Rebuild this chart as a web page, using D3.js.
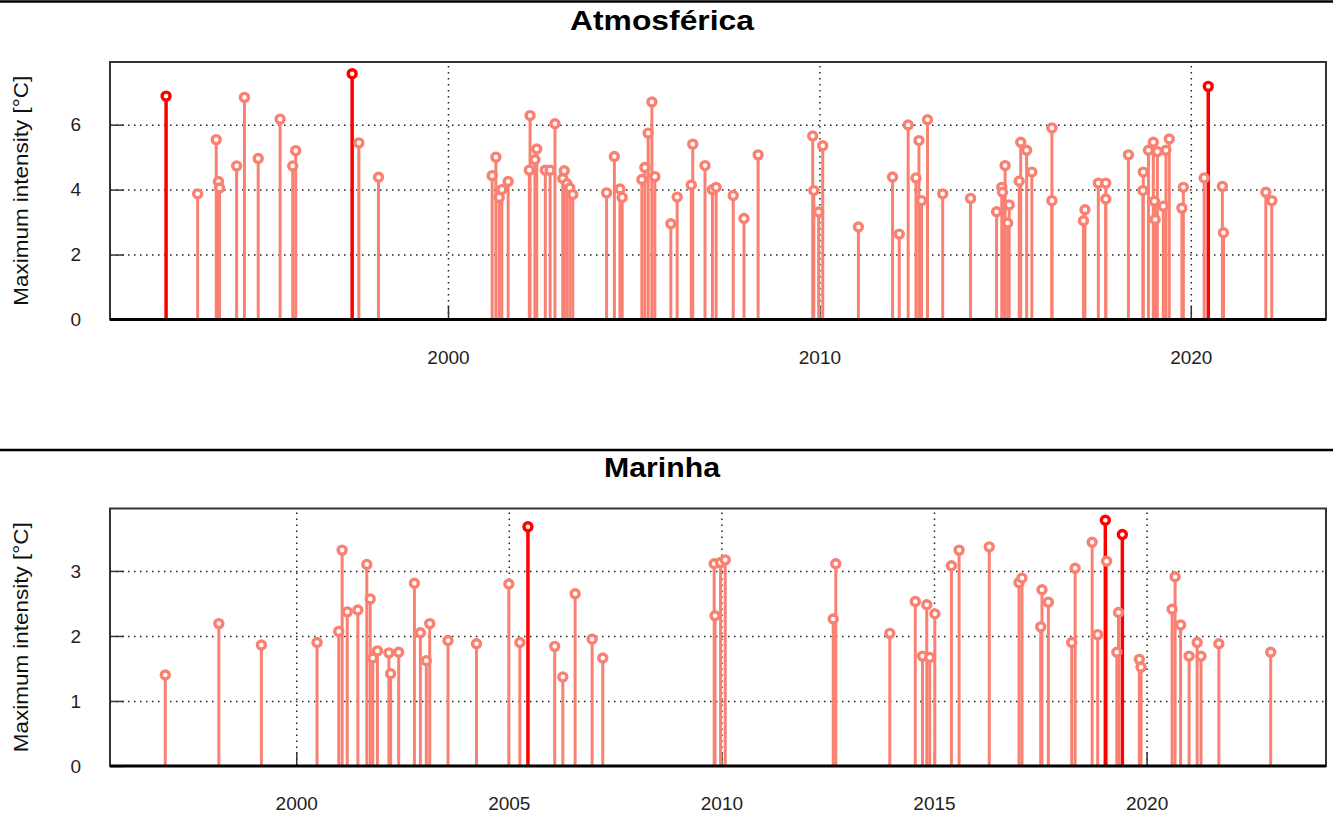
<!DOCTYPE html>
<html>
<head>
  <meta charset="utf-8">
  <title>Atmosférica / Marinha</title>
  <script src="https://cdn.jsdelivr.net/npm/d3@7"></script>
  <style>
    body { margin: 0; background: #fff; }
    svg text { font-family: "Liberation Sans", Arial, sans-serif; }
    .tick text { fill: #222; font-size: 19px; }
    .titulo { font-size: 27px; font-weight: bold; fill: #000; }
    .rotulo { font-size: 20px; fill: #111; }
  </style>
</head>
<body>
<div id="grafico"></div>
<script>
"use strict"

// Atmosférica - eventos normais (ano decimal, intensidade max)
var atmAnos = [1993.26, 1993.76, 1993.82, 1993.85, 1994.31, 1994.52, 1994.89, 1995.48, 1995.82, 1995.90,
  1997.60, 1998.13, 2001.19, 2001.29, 2001.38, 2001.45, 2001.62, 2002.19, 2002.21, 2002.34,
  2002.39, 2002.62, 2002.75, 2002.88, 2003.09, 2003.13, 2003.20, 2003.28, 2003.36, 2004.27,
  2004.48, 2004.63, 2004.69, 2005.22, 2005.30, 2005.39, 2005.49, 2005.57, 2006.00, 2006.17,
  2006.55, 2006.59, 2006.92, 2007.12, 2007.22, 2007.68, 2007.97, 2008.35, 2009.82, 2009.85,
  2009.98, 2010.09, 2011.05, 2011.97, 2012.15, 2012.39, 2012.60, 2012.68, 2012.75, 2012.91,
  2013.32, 2014.07, 2014.77, 2014.91, 2014.93, 2015.00, 2015.07, 2015.11, 2015.38, 2015.42,
  2015.58, 2015.72, 2016.26, 2016.26, 2017.11, 2017.15, 2017.51, 2017.71, 2017.71, 2018.32,
  2018.71, 2018.72, 2018.86, 2018.99, 2019.02, 2019.04, 2019.10, 2019.26, 2019.33, 2019.42,
  2019.76, 2019.80, 2020.36, 2020.85, 2020.88, 2022.02, 2022.18];
var atmValores = [3.87, 5.54, 4.25, 4.05, 4.73, 6.84, 4.96, 6.17, 4.73, 5.20,
  5.44, 4.38, 4.43, 5.00, 3.76, 4.00, 4.25, 4.60, 6.28, 4.92,
  5.25, 4.60, 4.60, 6.03, 4.34, 4.58, 4.18, 4.05, 3.85, 3.90,
  5.02, 4.02, 3.76, 4.31, 4.68, 5.74, 6.70, 4.40, 2.95, 3.77,
  4.14, 5.40, 4.74, 4.00, 4.07, 3.82, 3.11, 5.07, 5.65, 3.97,
  3.31, 5.35, 2.85, 4.39, 2.63, 5.99, 4.36, 5.51, 3.66, 6.15,
  3.87, 3.73, 3.32, 4.07, 3.92, 4.74, 2.97, 3.53, 4.26, 5.46,
  5.21, 4.54, 5.90, 3.66, 3.04, 3.38, 4.20, 4.20, 3.71, 5.07,
  3.97, 4.54, 5.21, 5.46, 3.64, 3.08, 5.17, 3.49, 5.21, 5.56,
  3.43, 4.07, 4.36, 4.10, 2.67, 3.92, 3.66];
// Atmosférica - eventos em destaque (vermelho)
var atmAnosTop = [1992.41, 1997.42, 2020.47];
var atmValoresTop = [6.88, 7.57, 7.18];

// Marinha - eventos normais
var marAnos = [1996.92, 1998.18, 1999.18, 2000.49, 2001.00, 2001.08, 2001.20, 2001.45, 2001.66, 2001.74,
  2001.80, 2001.91, 2002.18, 2002.22, 2002.41, 2002.78, 2002.92, 2003.06, 2003.14, 2003.57,
  2004.24, 2005.00, 2005.26, 2006.08, 2006.27, 2006.56, 2006.96, 2007.21, 2009.83, 2009.85,
  2009.98, 2010.09, 2012.63, 2012.69, 2013.96, 2014.56, 2014.73, 2014.83, 2014.90, 2015.02,
  2015.41, 2015.59, 2016.30, 2017.00, 2017.07, 2017.51, 2017.54, 2017.69, 2018.24, 2018.32,
  2018.72, 2018.85, 2019.06, 2019.30, 2019.34, 2019.83, 2019.87, 2020.60, 2020.67, 2020.80,
  2021.00, 2021.19, 2021.28, 2021.70, 2022.92];
var marValores = [1.40, 2.19, 1.86, 1.90, 2.07, 3.32, 2.37, 2.40, 3.10, 2.57,
  1.66, 1.77, 1.74, 1.42, 1.75, 2.81, 2.05, 1.62, 2.19, 1.93,
  1.88, 2.80, 1.90, 1.84, 1.37, 2.65, 1.95, 1.66, 3.11, 2.31,
  3.13, 3.17, 2.26, 3.11, 2.04, 2.53, 1.69, 2.48, 1.67, 2.34,
  3.08, 3.32, 3.37, 2.82, 2.89, 2.14, 2.71, 2.52, 1.90, 3.04,
  3.44, 2.02, 3.15, 1.75, 2.36, 1.64, 1.52, 2.41, 2.91, 2.17,
  1.69, 1.90, 1.69, 1.88, 1.75];
var marAnosTop = [2005.45, 2019.03, 2019.43];
var marValoresTop = [3.68, 3.78, 3.56];

// ticks
var atmTicksX = [2000, 2010, 2020];
var atmTicksY = [0, 2, 4, 6];
var marTicksX = [2000, 2005, 2010, 2015, 2020];
var marTicksY = [0, 1, 2, 3];

var larguraSVG = 1333, alturaSVG = 817;
var corNormal = "#FA8072", corTop = "#FF0000";

var svg = d3.select("#grafico").append("svg")
  .attr("width", larguraSVG)
  .attr("height", alturaSVG);

function desenhaPainel(cfg) {
  var x = d3.scaleLinear().domain(cfg.dominioX).range([110, 1326]);
  var y = d3.scaleLinear().domain(cfg.dominioY).range([cfg.base, cfg.topo]);
  var altura = cfg.base - cfg.topo;

  // linha separadora e titulo
  svg.append("line")
    .attr("x1", 0).attr("x2", larguraSVG)
    .attr("y1", cfg.separador).attr("y2", cfg.separador)
    .attr("stroke", "#000").attr("stroke-width", 2.5);
  svg.append("text")
    .attr("class", "titulo")
    .attr("x", 662).attr("y", cfg.tituloY)
    .attr("text-anchor", "middle")
    .attr("textLength", cfg.tituloLargura)
    .attr("lengthAdjust", "spacingAndGlyphs")
    .text(cfg.titulo);

  var g = svg.append("g");

  // grade pontilhada
  g.append("g")
    .attr("transform", "translate(0," + cfg.base + ")")
    .call(d3.axisBottom(x).tickValues(cfg.ticksX).tickSize(-altura + 4).tickFormat(""))
    .call(s => s.select(".domain").remove())
    .selectAll("line").attr("stroke", "#222").attr("stroke-width", 1.5).attr("stroke-dasharray", "1.5,4.5");
  g.append("g")
    .attr("transform", "translate(110,0)")
    .call(d3.axisLeft(y).tickValues(cfg.ticksY.slice(1)).tickSize(-1216).tickFormat(""))
    .call(s => s.select(".domain").remove())
    .selectAll("line").attr("stroke", "#222").attr("stroke-width", 1.5).attr("stroke-dasharray", "1.5,4.5");

  // tracinhos solidos internos
  g.append("g")
    .attr("transform", "translate(0," + cfg.base + ")")
    .call(d3.axisBottom(x).tickValues(cfg.ticksX).tickSize(-14).tickFormat(""))
    .call(s => s.select(".domain").remove())
    .selectAll("line").attr("stroke", "#333").attr("stroke-width", 1.5);
  g.append("g")
    .attr("transform", "translate(110,0)")
    .call(d3.axisLeft(y).tickValues(cfg.ticksY).tickSize(-14).tickFormat(""))
    .call(s => s.select(".domain").remove())
    .selectAll("line").attr("stroke", "#333").attr("stroke-width", 1.5);

  // rotulos dos eixos
  g.append("g")
    .attr("transform", "translate(0," + cfg.base + ")")
    .call(d3.axisBottom(x).tickValues(cfg.ticksX).tickSize(0).tickPadding(31).tickFormat(d3.format("d")))
    .call(s => s.select(".domain").remove());
  g.append("g")
    .attr("transform", "translate(110,0)")
    .call(d3.axisLeft(y).tickValues(cfg.ticksY).tickSize(0).tickPadding(29).tickFormat(d3.format("d")))
    .call(s => s.select(".domain").remove());

  g.append("text")
    .attr("class", "rotulo")
    .attr("transform", "translate(28," + (cfg.topo + cfg.base) / 2 + ") rotate(-90)")
    .attr("text-anchor", "middle")
    .attr("textLength", 230)
    .attr("lengthAdjust", "spacingAndGlyphs")
    .text("Maximum intensity [°C]");

  // hastes
  var normais = cfg.anos.map((a, i) => ({ano: a, valor: cfg.valores[i]}));
  var tops = cfg.anosTop.map((a, i) => ({ano: a, valor: cfg.valoresTop[i]}));

  g.selectAll(".haste").data(normais).enter().append("line")
    .attr("x1", d => x(d.ano)).attr("x2", d => x(d.ano))
    .attr("y1", y(0)).attr("y2", d => y(d.valor))
    .attr("stroke", corNormal).attr("stroke-width", 3);
  g.selectAll(".hasteTop").data(tops).enter().append("line")
    .attr("x1", d => x(d.ano)).attr("x2", d => x(d.ano))
    .attr("y1", y(0)).attr("y2", d => y(d.valor))
    .attr("stroke", corTop).attr("stroke-width", 3.5);

  // marcadores
  g.selectAll(".ponto").data(normais).enter().append("circle")
    .attr("cx", d => x(d.ano)).attr("cy", d => y(d.valor))
    .attr("r", 4)
    .attr("fill", "#fff").attr("stroke", corNormal).attr("stroke-width", 3.4);
  g.selectAll(".pontoTop").data(tops).enter().append("circle")
    .attr("cx", d => x(d.ano)).attr("cy", d => y(d.valor))
    .attr("r", 4)
    .attr("fill", "#fff").attr("stroke", corTop).attr("stroke-width", 3.4);

  // moldura
  g.append("rect")
    .attr("x", 110).attr("y", cfg.topo)
    .attr("width", 1216).attr("height", altura)
    .attr("fill", "none").attr("stroke", "#333").attr("stroke-width", 2);
  g.append("line")
    .attr("x1", 110).attr("x2", 1326)
    .attr("y1", cfg.base).attr("y2", cfg.base)
    .attr("stroke", "#000").attr("stroke-width", 3);
}

desenhaPainel({
  titulo: "Atmosférica", tituloY: 30, tituloLargura: 184, separador: 1.5,
  topo: 62, base: 319.5,
  dominioX: [1990.90, 2023.64], dominioY: [0, 7.93],
  ticksX: atmTicksX, ticksY: atmTicksY,
  anos: atmAnos, valores: atmValores, anosTop: atmAnosTop, valoresTop: atmValoresTop
});

desenhaPainel({
  titulo: "Marinha", tituloY: 477, tituloLargura: 116, separador: 450,
  topo: 508.5, base: 766,
  dominioX: [1995.62, 2024.22], dominioY: [0, 3.96],
  ticksX: marTicksX, ticksY: marTicksY,
  anos: marAnos, valores: marValores, anosTop: marAnosTop, valoresTop: marValoresTop
});
</script>
</body>
</html>
